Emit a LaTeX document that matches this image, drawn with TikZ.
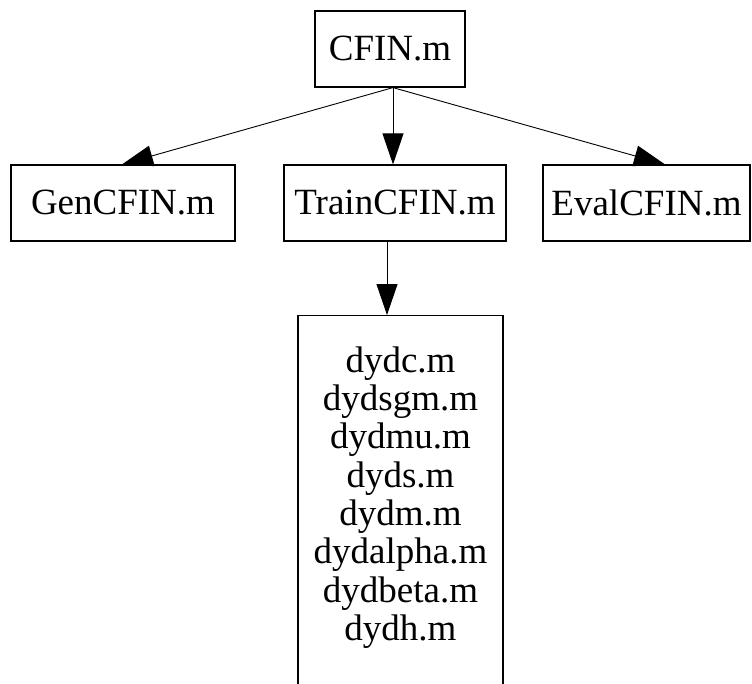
\documentclass[tikz,border=0pt]{standalone}
\usepackage{fontspec}
\setmainfont{Liberation Serif}
\usetikzlibrary{arrows.meta}
\begin{document}
\begin{tikzpicture}[x=1pt,y=-1pt,
  filebox/.style={draw=black,line width=1.2pt,inner sep=0pt,minimum height=76pt,
    font=\fontsize{37}{38.3}\selectfont},
  conn/.style={draw=black,line width=0.9pt,-{Triangle[length=31pt,width=21pt]}},
  listtext/.style={inner sep=0pt,align=center,anchor=north,
    font=\fontsize{37}{38.3}\selectfont}]
\clip (0,0) rectangle (752,683);
\node[filebox,minimum width=150pt] (cfin) at (390,49) {CFIN.m};
\node[filebox,minimum width=224pt] (gen) at (123,203) {GenCFIN.m};
\node[filebox,minimum width=222pt] (train) at (395,203) {TrainCFIN.m};
\node[filebox,minimum width=207pt] (eval) at (646.5,203) {EvalCFIN.m};
\node[draw=black,line width=1.2pt,inner sep=0pt,minimum width=205pt,minimum height=420pt,anchor=north]
  (dybox) at (400.5,315) {};
\node[listtext] (dytext) at (400.5,346.5)
  {dydc.m\\dydsgm.m\\dydmu.m\\dyds.m\\dydm.m\\dydalpha.m\\dydbeta.m\\dydh.m};
\coordinate (src) at ([xshift=3pt]cfin.south);
\draw[conn] (src) -- ([xshift=-1pt]gen.north);
\draw[conn] (src) -- (src |- train.north);
\draw[conn] (src) -- ([xshift=18.5pt]eval.north);
\draw[conn] ([xshift=-8pt]train.south) -- ([xshift=-8pt]train.south |- dybox.north);
\end{tikzpicture}
\end{document}
